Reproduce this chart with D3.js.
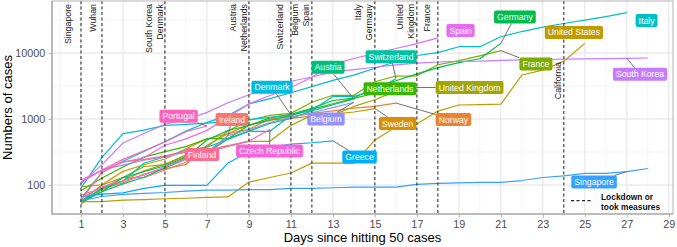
<!DOCTYPE html>
<html>
<head>
<meta charset="utf-8">
<style>
    body { margin: 0; background: #fff; }
    svg text { font-family: "Liberation Sans", Arial, sans-serif; }
    .line { fill: none; stroke-width: 1.2; stroke-linejoin: round; }
    .lab text { fill: #fff; font-size: 8.7px; }
    .axis text { fill: #4d4d4d; font-size: 10.8px; font-family: "Liberation Sans", Arial, sans-serif; }
    .axis line { stroke: #b3b3b3; }
    .axis .domain { display: none; }
</style>
</head>
<body>
<svg id="chart" width="677" height="247"></svg>
<script src="https://cdn.jsdelivr.net/npm/d3@7"></script>
<script>
// cases by day since 50 cases, one array per country
const ireland = [70, 90, 129, 129, 169, 223, 292, 557]
const norway = [56, 87, 108, 147, 176, 205, 400, 598, 702, 996, 1090, 1221, 1333, 1463, 1550, 1746]
const sweden = [94, 101, 161, 203, 248, 355, 500, 599, 814, 961, 1022, 1103, 1190, 1279, 1439]
const unitedStates = [56, 56, 59, 60, 62, 63, 65, 66, 111, 130, 152, 215, 215, 215, 480, 755, 840, 1320, 1630, 1650, 1680, 4640, 5500, 7500, 14000]
const unitedKingdom = [51, 86, 116, 164, 207, 274, 322, 384, 459, 459, 802, 1144, 1145, 1551, 1960, 2642, 3000]
const france = [57, 100, 130, 191, 204, 288, 380, 656, 957, 1134, 1217, 1792, 2289, 2289, 3672, 4480, 4513, 6650, 7652, 9043, 10871]
const netherlands = [82, 128, 188, 265, 321, 382, 503, 503, 804, 959, 1135, 1413, 1705, 2051, 2460, 2994]
const germany = [57, 79, 130, 159, 196, 262, 482, 670, 799, 1040, 1176, 1457, 1908, 2078, 3062, 3795, 4838, 6012, 7156, 8198, 14000]
const austria = [55, 79, 104, 131, 182, 246, 302, 504, 655, 860, 1018, 1332, 1646, 2013]
const switzerland = [56, 90, 114, 214, 268, 337, 374, 491, 652, 652, 1139, 1359, 2200, 2200, 2700, 4075]
const italy = [62, 155, 229, 322, 453, 655, 888, 1128, 1694, 2036, 2502, 3089, 3858, 4636, 5883, 7375, 9172, 10149, 12462, 12462, 17660, 21157, 24747, 27980, 31506, 35713, 41035]
const denmark = [90, 262, 600, 680, 801, 827, 864, 914, 977, 1057, 1151]
const greece = [66, 73, 76, 89, 99, 99, 99, 215, 316, 376, 418, 437, 468]
const singapore = [58, 67, 72, 75, 77, 81, 84, 84, 85, 85, 89, 89, 91, 93, 93, 93, 102, 106, 108, 110, 110, 117, 130, 138, 150, 150, 160, 178]
const belgium = [109, 169, 200, 239, 267, 314, 314, 559, 689, 886, 1058, 1243, 1486, 1795]
const southKorea = [104, 204, 433, 602, 833, 977, 1261, 1766, 2337, 3150, 3736, 4335, 5186, 5621, 6088, 6593, 7041, 7314, 7478, 7513, 7755, 7869, 7979, 8086, 8162, 8236, 8320, 8413]
const spain = [120, 165, 222, 259, 400, 500, 673, 1073, 1695, 2277, 3000, 4300, 6800, 8250, 9900, 11700, 13900, 17000]
const czechRepublic = [63, 94, 116, 141, 189, 253, 298, 396, 464, 694]
const portugal = [112, 169, 245, 331, 448, 642, 785]
const finland = [59, 155, 225, 244, 277, 321, 336, 400]

const countries = ["Ireland", "Norway", "Sweden", "United States", "United Kingdom", "France", "Netherlands",
    "Germany", "Austria", "Switzerland", "Italy", "Denmark", "Greece", "Singapore", "Belgium",
    "South Korea", "Spain", "Czech Republic", "Portugal", "Finland"]
const seriesValues = [ireland, norway, sweden, unitedStates, unitedKingdom, france, netherlands,
    germany, austria, switzerland, italy, denmark, greece, singapore, belgium,
    southKorea, spain, czechRepublic, portugal, finland]

const lockdownDays = [1, 2, 5, 9, 11, 12, 15, 17, 18, 24]
const lockdownLabels = ["Singapore", "Wuhan", "South Korea\nDenmark", "Austria\nNetherlands", "Switzerland",
    "Belgium\nSpain", "Italy\nGermany", "United\nKingdom", "France", "California"]

const xTicks = d3.range(1, 30, 2)
const yTicks = [100, 1000, 10000]

// ---------------------------------------------------------------
const svg = d3.select("#chart")
const panel = {left: 52, right: 673, top: 1, bottom: 214}

const x = d3.scaleLinear().domain([-0.38, 29.2]).range([panel.left, panel.right])
const y = d3.scaleLog().domain([36.4, 61400]).range([panel.bottom, panel.top])

// ggplot default hue palette for 20 groups
const colour = d3.scaleOrdinal()
    .domain(countries)
    .range(["#F8766D", "#EA8331", "#D89000", "#C09B00", "#A3A500", "#7CAE00", "#39B600",
        "#00BB4E", "#00BF7D", "#00C1A3", "#00BFC4", "#00BAE0", "#00B0F6", "#35A2FF",
        "#9590FF", "#C77CFF", "#E76BF3", "#FA62DB", "#FF62BC", "#FF6C91"])

// grid
let grid = svg.append("g")
grid.selectAll(".vmin").data(d3.range(0, 30, 2)).enter().append("line")
    .attr("x1", d => x(d)).attr("x2", d => x(d))
    .attr("y1", panel.top).attr("y2", panel.bottom)
    .attr("stroke", "#efefef").attr("stroke-width", 0.7)
grid.selectAll(".hmin").data([Math.pow(10, 2.5), Math.pow(10, 3.5), Math.pow(10, 4.5)]).enter().append("line")
    .attr("x1", panel.left).attr("x2", panel.right)
    .attr("y1", d => y(d)).attr("y2", d => y(d))
    .attr("stroke", "#efefef").attr("stroke-width", 0.7)
grid.selectAll(".vmaj").data(xTicks).enter().append("line")
    .attr("x1", d => x(d)).attr("x2", d => x(d))
    .attr("y1", panel.top).attr("y2", panel.bottom)
    .attr("stroke", "#e3e3e3").attr("stroke-width", 1)
grid.selectAll(".hmaj").data(yTicks).enter().append("line")
    .attr("x1", panel.left).attr("x2", panel.right)
    .attr("y1", d => y(d)).attr("y2", d => y(d))
    .attr("stroke", "#e3e3e3").attr("stroke-width", 1)

// country lines
let line = d3.line().x((v, i) => x(i + 1)).y(v => y(v))
svg.append("g").selectAll("path")
    .data(countries)
    .enter()
    .append("path")
    .attr("class", "line")
    .attr("stroke", c => colour(c))
    .attr("d", (c, i) => line(seriesValues[i]))

// lockdown lines
svg.append("g").selectAll("line")
    .data(lockdownDays)
    .enter()
    .append("line")
    .attr("x1", d => x(d)).attr("x2", d => x(d))
    .attr("y1", panel.top).attr("y2", panel.bottom)
    .attr("stroke", "#222").attr("stroke-width", 1)
    .attr("stroke-dasharray", "3,2.5")

// lockdown text, rotated, left of its line
let lockNudge = {"Singapore": -2.5, "Wuhan": 2.3, "California": 4.6}
let lockTop = {"California": 62}
let lockG = svg.append("g")
lockdownLabels.forEach((lab, i) => {
    let parts = lab.split("\n")
    let cx = x(lockdownDays[i]) - 11 + (lockNudge[lab] || 0)
    parts.forEach((p, j) => {
        let px = cx + (j - (parts.length - 1) / 2) * 11
        lockG.append("text")
            .attr("transform", `translate(${px},${lockTop[lab] || 4}) rotate(-90)`)
            .attr("text-anchor", "end")
            .attr("dy", "0.35em")
            .attr("font-size", "8.8px")
            .attr("fill", "#1a1a1a")
            .text(p)
    })
})

// labels (placed in data space, like ggrepel left them)
let labelPlace = {
    "Singapore": [25.44, 111], "Portugal": [5.65, 1100], "Ireland": [8.19, 980],
    "Finland": [6.76, 290], "Czech Republic": [9.98, 327], "Denmark": [10.1, 3020],
    "Belgium": [12.67, 1000], "Austria": [12.77, 6070], "Switzerland": [15.77, 8790],
    "Netherlands": [15.72, 2880], "Greece": [14.27, 266], "Sweden": [16.08, 855],
    "Norway": [18.74, 980], "United Kingdom": [19.51, 3000], "Spain": [19.08, 21900],
    "Germany": [21.67, 35100], "France": [22.67, 6810], "United States": [24.48, 20500],
    "Italy": [27.94, 31000], "South Korea": [27.63, 4750]
}
let anchorDay = {"South Korea": 27, "Singapore": 27}

let segG = svg.append("g")
let labG = svg.append("g").attr("class", "lab")
countries.forEach((c, i) => {
    let vals = seriesValues[i]
    let ad = anchorDay[c] || vals.length
    let ex = x(ad), ey = y(vals[ad - 1])
    let lx = x(labelPlace[c][0]), ly = y(labelPlace[c][1])

    let g = labG.append("g")
    let t = g.append("text").attr("x", lx).attr("y", ly).attr("dy", "0.35em")
        .attr("text-anchor", "middle").text(c)
    let w = t.node().getComputedTextLength() + 6
    let h = 13
    g.insert("rect", "text")
        .attr("x", lx - w / 2).attr("y", ly - h / 2)
        .attr("width", w).attr("height", h)
        .attr("rx", 2).attr("fill", colour(c))

    // segment from the end of the line to the box edge
    let dx = lx - ex, dy = ly - ey
    let tx = Math.abs(dx) > 0 ? (Math.abs(dx) - w / 2) / Math.abs(dx) : -1
    let ty = Math.abs(dy) > 0 ? (Math.abs(dy) - h / 2) / Math.abs(dy) : -1
    let tt = Math.max(tx, ty)
    if (tt > 0) {
        let bx = ex + dx * tt, by = ey + dy * tt
        if (Math.hypot(bx - ex, by - ey) > 9.5) {
            segG.append("line")
                .attr("x1", ex).attr("y1", ey).attr("x2", bx).attr("y2", by)
                .attr("stroke", "#707070").attr("stroke-width", 1)
        }
    }
})

// panel border
svg.append("rect")
    .attr("x", panel.left).attr("y", panel.top)
    .attr("width", panel.right - panel.left).attr("height", panel.bottom - panel.top)
    .attr("fill", "none").attr("stroke", "#b3b3b3").attr("stroke-width", 1)
svg.append("path")
    .attr("d", `M${panel.left},${panel.top}V${panel.bottom}H${panel.right}`)
    .attr("fill", "none").attr("stroke", "#b3b3b3").attr("stroke-width", 1.7)

// axes
svg.append("g").attr("class", "axis")
    .attr("transform", `translate(0,${panel.bottom})`)
    .call(d3.axisBottom(x).tickValues(xTicks).tickSize(3.5).tickPadding(2.6))
svg.append("g").attr("class", "axis")
    .attr("transform", `translate(${panel.left},0)`)
    .call(d3.axisLeft(y).tickValues(yTicks).tickFormat(d3.format("d")).tickSize(3.5).tickPadding(3.3))

svg.append("text")
    .attr("x", (panel.left + panel.right) / 2).attr("y", 242)
    .attr("text-anchor", "middle").attr("font-size", "13px").attr("fill", "#000")
    .text("Days since hitting 50 cases")
svg.append("text")
    .attr("transform", `translate(11.5,${(panel.top + panel.bottom) / 2}) rotate(-90)`)
    .attr("text-anchor", "middle").attr("font-size", "13px").attr("fill", "#000")
    .text("Numbers of cases")

// legend
let leg = svg.append("g")
leg.append("line")
    .attr("x1", 571).attr("x2", 593).attr("y1", 200.7).attr("y2", 200.7)
    .attr("stroke", "#222").attr("stroke-width", 1.2).attr("stroke-dasharray", "3,2.5")
leg.append("text").attr("x", 601).attr("y", 200)
    .attr("font-weight", "bold")
    .attr("font-size", "8.4px").attr("fill", "#111").text("Lockdown or")
leg.append("text").attr("x", 601).attr("y", 210)
    .attr("font-weight", "bold")
    .attr("font-size", "8.4px").attr("fill", "#111").text("took measures")
</script>
</body>
</html>
